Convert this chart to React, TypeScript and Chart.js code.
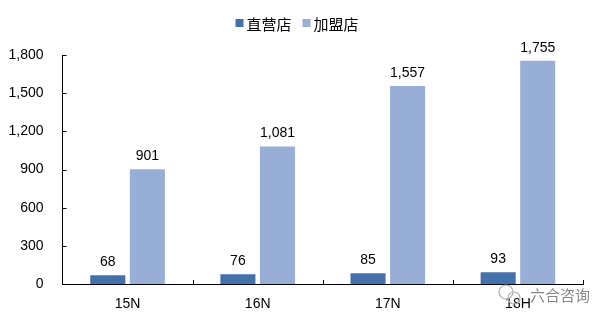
import React, { useEffect, useRef } from "react";
import { Chart, registerables } from "chart.js";

Chart.register(...registerables);

const categories = ["15N", "16N", "17N", "18H"];
const seriesNames = ["直营店", "加盟店"];
const directStores = [68, 76, 85, 93];
const franchiseStores = [901, 1081, 1557, 1755];
const yTicks = [0, 300, 600, 900, 1200, 1500, 1800];
const watermarkText = "六合咨询";

const colors = ["#4371AB", "#97AED6"];
const LATIN = "'Liberation Sans', Arial, sans-serif";
const CJK = "'Noto Sans CJK SC', 'Noto Sans', sans-serif";

const fmt = (v: number) => v.toLocaleString("en-US");

const overlayPlugin = {
  id: "overlay",
  afterDatasetsDraw(chart: any) {
    const ctx = chart.ctx;
    const area = chart.chartArea;
    const xs = chart.scales.x;
    const ys = chart.scales.y;
    ctx.save();
    // data labels
    ctx.fillStyle = "#000";
    ctx.font = `14px ${LATIN}`;
    ctx.textAlign = "center";
    ctx.textBaseline = "alphabetic";
    chart.data.datasets.forEach((ds: any, di: number) => {
      const meta = chart.getDatasetMeta(di);
      meta.data.forEach((bar: any, i: number) => {
        ctx.fillText(fmt(ds.data[i]), bar.x, bar.y - 9);
      });
    });
    // inside tick marks
    ctx.strokeStyle = "#000";
    ctx.lineWidth = 1;
    ctx.beginPath();
    yTicks.forEach((t) => {
      const y = Math.round(ys.getPixelForValue(t)) + 0.5;
      ctx.moveTo(area.left, y);
      ctx.lineTo(area.left + 4, y);
    });
    for (let i = 1; i <= categories.length; i++) {
      const x = Math.round(area.left + ((area.right - area.left) * i) / categories.length) + 0.5;
      ctx.moveTo(x, area.bottom);
      ctx.lineTo(x, area.bottom - 4);
    }
    ctx.stroke();
    // legend
    ctx.font = `15px ${CJK}`;
    ctx.textAlign = "left";
    ctx.textBaseline = "middle";
    const legendY = 23;
    const boxSize = 8;
    const gapBoxText = 3;
    const gapItems = 11;
    const widths = seriesNames.map((n) => boxSize + gapBoxText + ctx.measureText(n).width);
    const total = widths.reduce((a, b) => a + b, 0) + gapItems * (seriesNames.length - 1);
    let x = 297 - total / 2;
    seriesNames.forEach((n, i) => {
      ctx.fillStyle = colors[i];
      ctx.fillRect(x, legendY - boxSize / 2, boxSize, boxSize);
      ctx.fillStyle = "#000";
      ctx.fillText(n, x + boxSize + gapBoxText, legendY + 1);
      x += widths[i] + gapItems;
    });
    // watermark
    ctx.strokeStyle = "#b0b0b0";
    ctx.lineWidth = 1.2;
    ctx.beginPath();
    ctx.arc(506, 292, 7, 0, Math.PI * 2);
    ctx.stroke();
    ctx.beginPath();
    ctx.arc(514, 298, 6, 0, Math.PI * 2);
    ctx.stroke();
    ctx.fillStyle = "#888";
    ctx.font = `15px ${CJK}`;
    ctx.textBaseline = "middle";
    ctx.fillText(watermarkText, 530, 295);
    ctx.restore();
  },
};

export default function App() {
  const ref = useRef<HTMLCanvasElement | null>(null);
  useEffect(() => {
    if (!ref.current) return;
    const chart = new Chart(ref.current, {
      type: "bar",
      data: {
        labels: categories,
        datasets: [
          { label: seriesNames[0], data: directStores, backgroundColor: colors[0] },
          { label: seriesNames[1], data: franchiseStores, backgroundColor: colors[1] },
        ],
      },
      options: {
        animation: false,
        responsive: false,
        maintainAspectRatio: false,
        layout: { padding: { top: 55, right: 26, bottom: 0, left: 0 } },
        plugins: { legend: { display: false }, tooltip: { enabled: false } },
        datasets: { bar: { barPercentage: 0.886, categoryPercentage: 0.608 } },
        scales: {
          x: {
            grid: { display: false, drawTicks: false },
            border: { display: true, color: "#000", width: 1 },
            ticks: { color: "#000", font: { family: LATIN, size: 14 }, padding: 12 },
            afterFit: (s: any) => {
              s.height = 38;
            },
          },
          y: {
            min: 0,
            max: 1800,
            grid: { display: false, drawTicks: false },
            border: { display: true, color: "#000", width: 1 },
            ticks: {
              stepSize: 300,
              color: "#000",
              font: { family: LATIN, size: 14 },
              padding: 19,
              callback: (v: any) => fmt(Number(v)),
            },
            afterFit: (s: any) => {
              s.width = 62.5;
            },
          },
        },
      },
      plugins: [overlayPlugin],
    });
    return () => chart.destroy();
  }, []);
  return (
    <div style={{ position: "fixed", left: 0, top: 0, width: 609, height: 322, background: "#fff" }}>
      <canvas ref={ref} width={609} height={322} style={{ display: "block" }} />
    </div>
  );
}
